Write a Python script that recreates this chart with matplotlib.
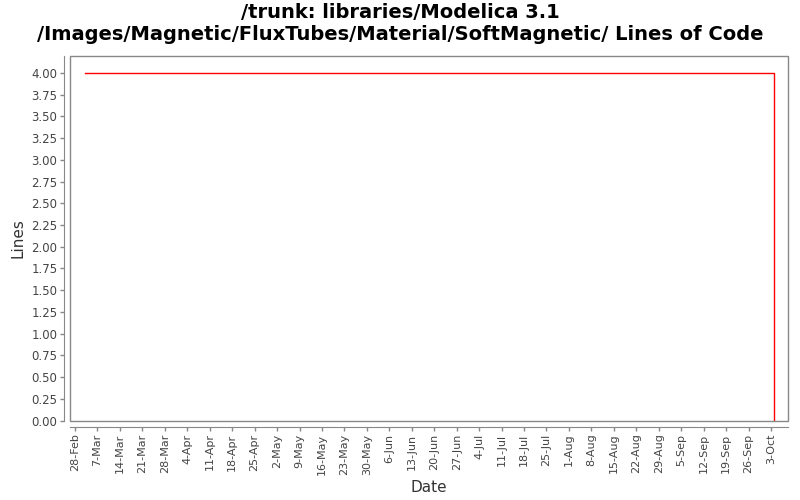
import matplotlib
matplotlib.use("Agg")
import matplotlib.pyplot as plt
import matplotlib.dates as mdates
from matplotlib.patches import Rectangle
import datetime as dt

dates = [dt.datetime(2010, 3, 3), dt.datetime(2010, 10, 4), dt.datetime(2010, 10, 4)]
lines = [4, 4, 0]
tick_start = dt.datetime(2010, 2, 28)
tick_dates = [tick_start + dt.timedelta(days=7 * i) for i in range(32)]
tick_labels = [f"{d.day}-{d.strftime('%b')}" for d in tick_dates]
y_ticks = [i * 0.25 for i in range(17)]

fig = plt.figure(figsize=(8, 5), dpi=100)
ax = fig.add_axes([70 / 800, 1 - 421 / 500, (788 - 70) / 800, (421 - 56) / 500])

ax.plot(mdates.date2num(dates), lines, color="red", lw=1)

x0 = mdates.date2num(tick_start)
ax.set_xlim(x0 - 1.56, x0 + 222.3)
ax.set_ylim(0 - 0.005, 4.195)

for s in ["top", "right"]:
    ax.spines[s].set_visible(False)
ax.spines["left"].set_position(("outward", 4))
ax.spines["bottom"].set_position(("outward", 4))
for s in ["left", "bottom"]:
    ax.spines[s].set_color("#888888")
ax.tick_params(axis="both", colors="#888888", length=3, width=1, labelcolor="#444444", pad=2)

ax.set_xticks(mdates.date2num(tick_dates))
ax.set_xticklabels(tick_labels, fontsize=8, color="#444444")
ax.tick_params(axis="x", labelrotation=90)
ax.set_yticks(y_ticks)
ax.set_yticklabels([f"{v:.2f}" for v in y_ticks], fontsize=8.5, color="#444444")

ax.add_patch(Rectangle((0, 0), 1, 1, transform=ax.transAxes, fill=False,
                       edgecolor="#888888", lw=1, clip_on=False, zorder=5))

ax.set_xlabel("Date", fontsize=11, color="#333333")
ax.set_ylabel("Lines", fontsize=11, color="#333333")

fig.suptitle("/trunk: libraries/Modelica 3.1\n/Images/Magnetic/FluxTubes/Material/SoftMagnetic/ Lines of Code",
             fontsize=14, fontweight="bold", y=0.995, linespacing=1.25)

fig.savefig("out.png", dpi=100)
